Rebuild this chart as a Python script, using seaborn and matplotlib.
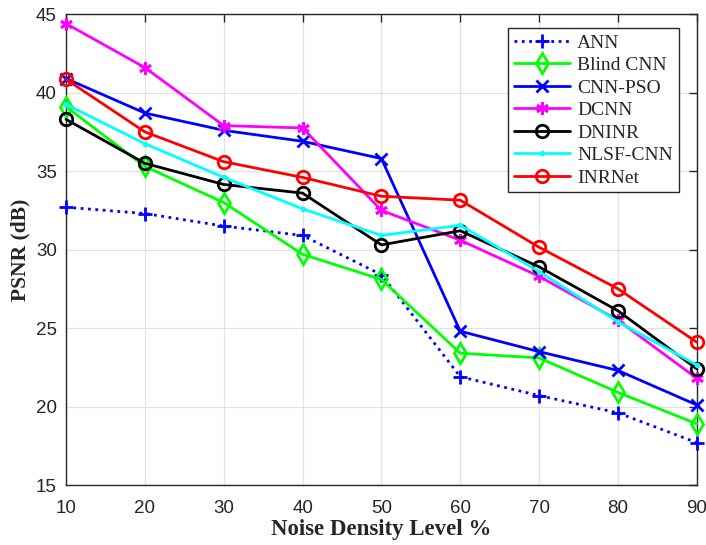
import numpy as np
import pandas as pd
import matplotlib
matplotlib.use("Agg")
import matplotlib.pyplot as plt
import seaborn as sns

noise = [10, 20, 30, 40, 50, 60, 70, 80, 90]

ann = [32.7, 32.3, 31.5, 30.9, 28.4, 21.9, 20.7, 19.6, 17.7]
blind_cnn = [39.1, 35.3, 33.0, 29.7, 28.1, 23.4, 23.1, 20.9, 18.9]
cnn_pso = [40.9, 38.7, 37.6, 36.9, 35.8, 24.8, 23.5, 22.3, 20.1]
dcnn = [44.4, 41.6, 37.9, 37.75, 32.5, 30.6, 28.3, 25.5, 21.8]
dninr = [38.3, 35.5, 34.15, 33.6, 30.3, 31.2, 28.9, 26.1, 22.4]
nlsf_cnn = [39.25, 36.75, 34.6, 32.6, 30.9, 31.55, 28.6, 25.4, 22.65]
inrnet = [40.85, 37.5, 35.6, 34.6, 33.4, 33.15, 30.15, 27.5, 24.1]

series = [
    ("ANN", ann, "#0000ff", "+", ":"),
    ("Blind CNN", blind_cnn, "#00ff00", "d", "-"),
    ("CNN-PSO", cnn_pso, "#0000ff", "x", "-"),
    ("DCNN", dcnn, "#ff00ff", (6, 2, 0), "-"),
    ("DNINR", dninr, "#000000", "o", "-"),
    ("NLSF-CNN", nlsf_cnn, "#00ffff", ".", "-"),
    ("INRNet", inrnet, "#ff0000", "o", "-"),
]
marker_sizes = {"+": 10, "d": 10, "x": 8, "o": 9, ".": 4}

sns.set_style("white")
plt.rcParams["font.family"] = ["Liberation Sans", "DejaVu Sans"]

fig = plt.figure(figsize=(7.06, 5.45), dpi=100)
ax = fig.add_axes([0.0935, 0.110, 0.8935, 0.864])

for name, vals, color, marker, ls in series:
    df = pd.DataFrame({"noise": noise, "psnr": vals})
    msize = marker_sizes.get(marker, 9) if isinstance(marker, str) else 9
    sns.lineplot(
        data=df, x="noise", y="psnr", ax=ax, color=color, marker=marker,
        linestyle=ls, linewidth=2, markersize=msize, label=name,
        markerfacecolor="none" if marker in ("d", "o") else color,
        markeredgecolor=color, markeredgewidth=2, clip_on=False, zorder=3,
    )

ax.set_xlim(10, 90)
ax.set_ylim(15, 45)
ax.set_xticks(noise)
ax.set_yticks(np.arange(15, 46, 5))
ax.grid(True, color="#e3e3e3", linewidth=0.9)
ax.set_axisbelow(True)
for s in ax.spines.values():
    s.set_color("#262626")
    s.set_linewidth(1.0)
    s.set_zorder(2)
ax.tick_params(direction="in", top=True, right=True, length=6, width=1,
               colors="#262626", labelsize=13.5)
ax.tick_params(axis="x", pad=11)
ax.tick_params(axis="y", pad=6.5)

ax.set_xlabel("Noise Density Level %", family="Liberation Serif",
              fontweight="bold", fontsize=16.5, color="#262626", labelpad=1)
ax.set_ylabel("PSNR (dB)", family="Liberation Serif",
              fontweight="bold", fontsize=15.5, color="#262626", labelpad=4)

leg = ax.legend(loc="upper right", bbox_to_anchor=(0.9715, 0.970),
                borderaxespad=0,
                prop={"family": "Liberation Serif", "size": 14},
                frameon=True, fancybox=False, edgecolor="#262626",
                framealpha=1, handlelength=2.9, borderpad=0.3,
                labelspacing=0.25, handletextpad=0.35)
leg.get_frame().set_linewidth(1.0)
leg.set_zorder(5)

fig.savefig("out.png", dpi=100)
